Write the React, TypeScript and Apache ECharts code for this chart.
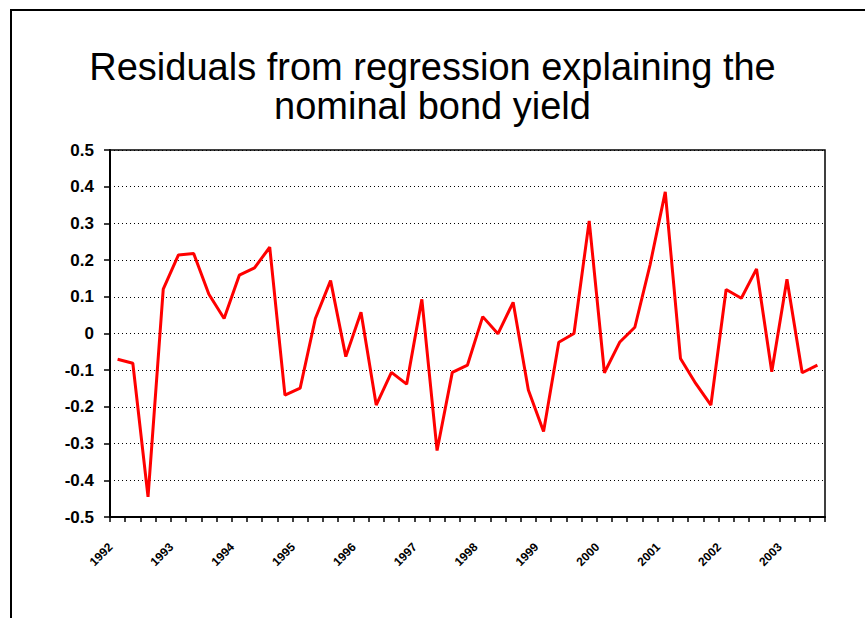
import React, { useEffect, useRef } from "react";
import * as echarts from "echarts";

const years = ["1992", "1993", "1994", "1995", "1996", "1997", "1998", "1999", "2000", "2001", "2002", "2003"];
const quarters = ["Q1", "Q2", "Q3", "Q4"];
const categories: string[] = [];
years.forEach((y) => quarters.forEach((q) => categories.push(y + " " + q)));
categories.length = 47; // 1992 Q1 .. 2003 Q3

const residuals = [
  -0.070, -0.081, -0.445, 0.121, 0.214, 0.218, 0.107, 0.041, 0.159, 0.179,
  0.235, -0.168, -0.149, 0.041, 0.144, -0.063, 0.058, -0.195, -0.106, -0.138,
  0.093, -0.319, -0.106, -0.086, 0.046, -0.001, 0.085, -0.154, -0.267, -0.024,
  0.000, 0.307, -0.107, -0.024, 0.017, 0.187, 0.386, -0.068, -0.136, -0.195,
  0.120, 0.096, 0.176, -0.104, 0.148, -0.107, -0.086,
];

const titleLines = ["Residuals from regression explaining the", "nominal bond yield"];

export default function App() {
  const ref = useRef<HTMLDivElement>(null);
  useEffect(() => {
    if (!ref.current) return;
    const chart = echarts.init(ref.current, null, { renderer: "svg" });
    chart.setOption({
      animation: false,
      backgroundColor: "#ffffff",
      title: {
        text: titleLines.join("\n"),
        left: "center",
        top: 42,
        textStyle: {
          fontFamily: "Liberation Sans, Arial, sans-serif",
          fontSize: 38,
          fontWeight: "normal",
          lineHeight: 39,
          color: "#000",
        },
      },
      graphic: [
        { type: "line", shape: { x1: 10, y1: 10, x2: 865, y2: 10 }, style: { stroke: "#000", lineWidth: 2 } },
        { type: "line", shape: { x1: 11, y1: 9, x2: 11, y2: 618 }, style: { stroke: "#000", lineWidth: 2 } },
      ],
      grid: {
        left: 110,
        top: 150,
        width: 715,
        height: 367,
        show: true,
        borderColor: "#000",
        borderWidth: 1.5,
        backgroundColor: "transparent",
        containLabel: false,
      },
      xAxis: {
        type: "category",
        data: categories,
        boundaryGap: true,
        axisLine: { show: true, onZero: false, lineStyle: { color: "#000", width: 2 } },
        axisTick: { show: true, interval: 0, length: 5, lineStyle: { color: "#000", width: 1.5 } },
        axisLabel: {
          interval: (i: number) => i % 4 === 0,
          rotate: 45,
          margin: 21,
          padding: [0, 10, 0, 0],
          fontFamily: "Liberation Sans, Arial, sans-serif",
          fontSize: 12,
          fontWeight: "bold",
          color: "#000",
          formatter: (v: string) => v.slice(0, 4),
        },
        splitLine: { show: false },
      },
      yAxis: {
        type: "value",
        min: -0.5,
        max: 0.5,
        interval: 0.1,
        axisLine: { show: true, lineStyle: { color: "#000", width: 2 } },
        axisTick: { show: true, length: 6, lineStyle: { color: "#000", width: 1.5 } },
        axisLabel: {
          margin: 16,
          fontFamily: "Liberation Sans, Arial, sans-serif",
          fontSize: 17,
          fontWeight: "bold",
          color: "#000",
          formatter: (v: number) => (Math.abs(v) < 1e-9 ? "0" : v.toFixed(1)),
        },
        splitLine: { show: true, lineStyle: { color: "#000", type: [1, 3], width: 1 } },
      },
      series: [
        {
          type: "line",
          data: residuals,
          showSymbol: false,
          symbol: "none",
          lineStyle: { color: "#ff0000", width: 3 },
          itemStyle: { color: "#ff0000" },
        },
      ],
    });
    return () => chart.dispose();
  }, []);
  return (
    <div
      ref={ref}
      style={{ position: "absolute", left: 0, top: 0, width: 865, height: 618 }}
    />
  );
}
